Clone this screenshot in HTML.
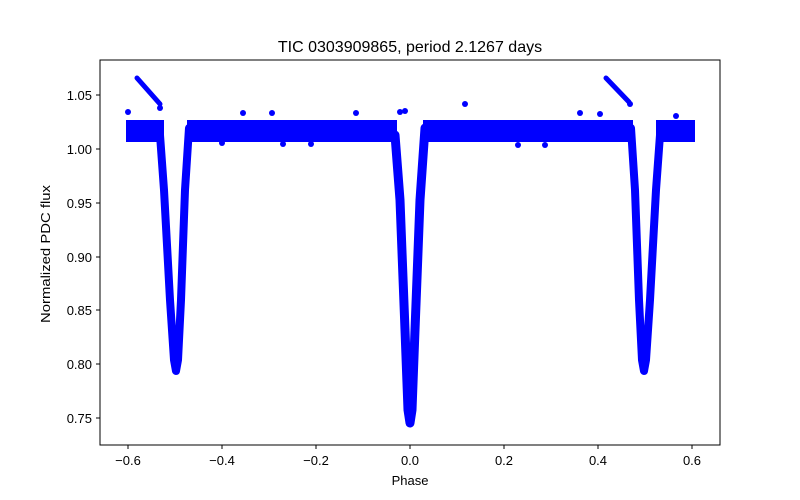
<!DOCTYPE html>
<html><head><meta charset="utf-8"><style>
body{margin:0;background:#fff;}
svg{display:block;font-family:"Liberation Sans",sans-serif;}
</style></head><body>
<svg width="800" height="500" viewBox="0 0 800 500">
<rect width="800" height="500" fill="#fff"/>
<g fill="none" stroke="#0000ff" stroke-linejoin="round">
  <path d="M126 131 L164 131" stroke-width="22"/>
  <path d="M187 131 L397 131" stroke-width="22"/>
  <path d="M423 131 L633 131" stroke-width="22"/>
  <path d="M656 131 L695 131" stroke-width="22"/>
  <g stroke-linecap="round">
  <path d="M160 135 L164 190 L170 300 L174 360 L176 371 L178 360 L181 300 L185 190 L189 128" stroke-width="8"/>
  <path d="M395 135 L400 200 L405 330 L408 410 L410 423 L412 410 L415 330 L420 200 L425 128" stroke-width="9"/>
  <path d="M631 128 L635 190 L639 300 L642 360 L644 371 L646 360 L650 300 L656 190 L660 135" stroke-width="8"/>
  <path d="M137 78 L160 104" stroke-width="5"/>
  <path d="M606 78 L629 102" stroke-width="5"/>
  </g>
</g>
<g fill="#0000ff">
  <circle cx="128" cy="112" r="3"/><circle cx="160" cy="108" r="3"/><circle cx="465" cy="104" r="3"/>
  <circle cx="243" cy="113" r="3"/><circle cx="272" cy="113" r="3"/><circle cx="311" cy="144" r="3"/>
  <circle cx="283" cy="144" r="3"/><circle cx="222" cy="143" r="3"/><circle cx="545" cy="145" r="3"/>
  <circle cx="518" cy="145" r="3"/><circle cx="356" cy="113" r="3"/><circle cx="580" cy="113" r="3"/>
  <circle cx="600" cy="114" r="3"/><circle cx="676" cy="116" r="3"/><circle cx="630" cy="104" r="3"/>
  <circle cx="400" cy="112" r="3"/><circle cx="405" cy="111" r="3"/>
</g>
<rect x="100" y="60" width="620" height="385" fill="none" stroke="#000" stroke-width="1"/>
<g stroke="#000" stroke-width="1">
  <line x1="128" y1="445" x2="128" y2="449"/><line x1="222" y1="445" x2="222" y2="449"/>
  <line x1="316" y1="445" x2="316" y2="449"/><line x1="410" y1="445" x2="410" y2="449"/>
  <line x1="504" y1="445" x2="504" y2="449"/><line x1="598" y1="445" x2="598" y2="449"/>
  <line x1="692" y1="445" x2="692" y2="449"/>
  <line x1="96" y1="95" x2="100" y2="95"/><line x1="96" y1="149" x2="100" y2="149"/>
  <line x1="96" y1="203" x2="100" y2="203"/><line x1="96" y1="257" x2="100" y2="257"/>
  <line x1="96" y1="310" x2="100" y2="310"/><line x1="96" y1="364" x2="100" y2="364"/>
  <line x1="96" y1="418" x2="100" y2="418"/>
</g>
<g font-size="13" fill="#000" text-anchor="middle">
  <text x="128" y="465">−0.6</text><text x="222" y="465">−0.4</text><text x="316" y="465">−0.2</text>
  <text x="410" y="465">0.0</text><text x="504" y="465">0.2</text><text x="598" y="465">0.4</text><text x="692" y="465">0.6</text>
</g>
<g font-size="13" fill="#000" text-anchor="end">
  <text x="92" y="100">1.05</text><text x="92" y="154">1.00</text><text x="92" y="208">0.95</text>
  <text x="92" y="262">0.90</text><text x="92" y="315">0.85</text><text x="92" y="369">0.80</text><text x="92" y="423">0.75</text>
</g>
<text x="410" y="485" font-size="13" text-anchor="middle">Phase</text>
<text x="50" y="254" font-size="13" text-anchor="middle" transform="rotate(-90 50 254)" textLength="138" lengthAdjust="spacingAndGlyphs">Normalized PDC flux</text>
<text x="410" y="52" font-size="16" text-anchor="middle">TIC 0303909865, period 2.1267 days</text>
</svg>
</body></html>
